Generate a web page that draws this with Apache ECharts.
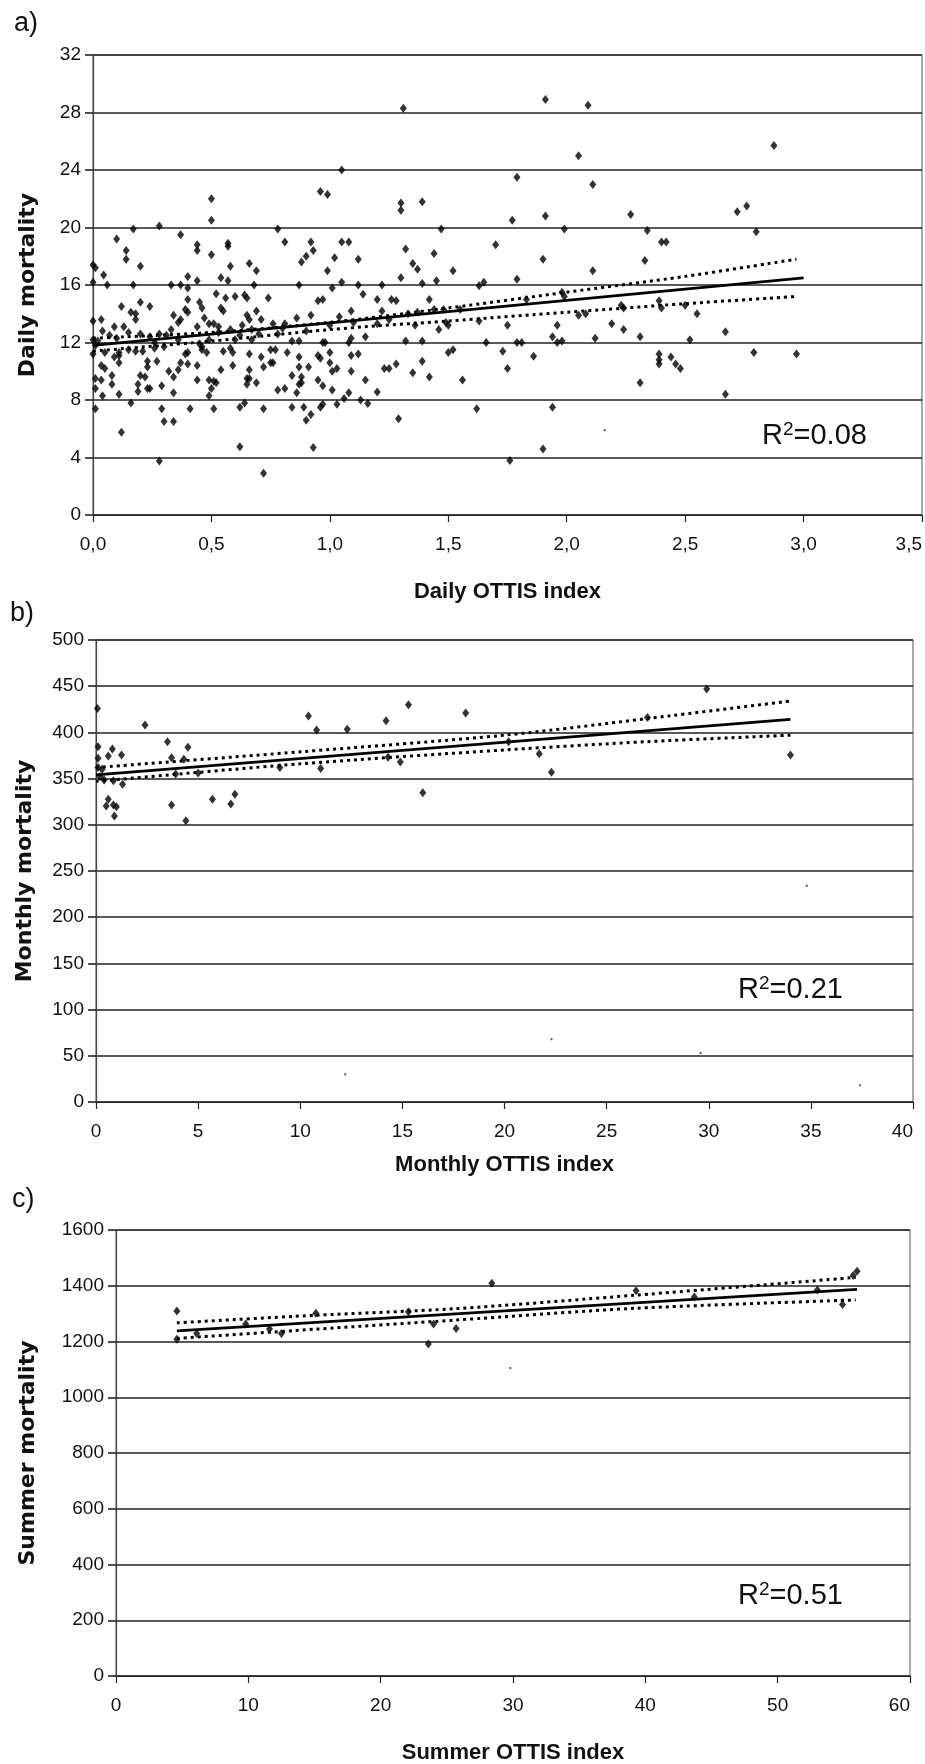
<!DOCTYPE html>
<html>
<head>
<meta charset="utf-8">
<script src="https://cdn.jsdelivr.net/npm/echarts@6/dist/echarts.min.js"></script>
<style>
  html, body { margin: 0; padding: 0; background: #fff; }
  #chart { width: 925px; height: 1764px; }
</style>
</head>
<body>
<div id="chart"></div>
<script>
// a) daily OTTIS index vs daily mortality
const dailyData = [
  [0.50,22.0],[0.50,20.5],[0.28,20.1],[0.17,19.9],[0.10,19.2],[0.37,19.5],[0.44,18.8],[0.44,18.4],[0.57,18.9],[0.57,18.7],
  [0.14,18.4],[0.14,17.8],[0.50,18.1],[0.00,17.4],[0.01,17.2],[0.20,17.3],[0.045,16.7],[0.58,17.3],[0.66,17.5],[0.69,17.0],
  [0.40,16.6],[0.54,16.5],[0.57,16.3],[0.44,16.3],[0.00,16.2],[0.06,16.0],[0.17,16.0],[0.33,16.0],[0.37,16.0],[0.40,15.8],
  [0.68,16.0],[0.52,15.4],[0.56,15.1],[0.60,15.2],[0.64,15.3],[0.65,15.1],[0.74,15.1],[0.40,15.0],[0.45,14.8],[0.46,14.4],
  [0.20,14.8],[0.24,14.5],[0.12,14.5],[0.16,14.1],[0.18,14.0],[0.18,13.6],[0.34,13.9],[0.39,14.3],[0.40,14.1],[0.54,14.4],
  [0.55,14.2],[0.00,13.5],[0.035,13.6],[0.36,13.4],[0.37,13.6],[0.47,13.7],[0.49,13.3],[0.51,13.3],[0.53,13.1],[0.65,13.9],
  [0.66,13.6],[0.69,14.2],[0.71,13.6],[0.04,12.8],[0.09,13.1],[0.13,13.1],[0.20,12.6],[0.28,12.6],[0.33,12.9],[0.44,13.1],
  [0.63,13.2],[0.67,12.9],[0.00,12.2],[0.01,11.8],[0.36,12.2],[0.45,11.9],[0.49,12.2],[0.60,12.2],[0.67,12.2],
  [0.02,12.1],[0.07,12.5],[0.10,12.3],[0.15,12.7],[0.24,12.4],[0.31,12.5],[0.26,12.0],[0.53,12.7],[0.58,12.9],[0.70,12.6],[0.62,12.5],
  [0.00,11.2],[0.05,11.3],[0.11,11.3],[0.15,11.5],[0.18,11.4],[0.21,11.4],[0.26,11.6],[0.30,11.7],[0.39,11.2],[0.40,11.3],
  [0.46,11.5],[0.48,11.3],[0.46,11.7],[0.55,11.4],[0.58,11.6],[0.59,11.3],[0.66,11.2],[0.71,11.0],
  [0.035,10.4],[0.05,10.2],[0.11,10.6],[0.11,11.1],[0.09,11.0],[0.23,10.7],[0.23,10.3],[0.27,10.7],[0.32,10.0],[0.34,9.6],
  [0.36,10.1],[0.37,10.6],[0.40,10.5],[0.44,10.4],[0.54,10.1],[0.59,10.4],[0.66,10.1],[0.66,9.5],[0.72,10.3],
  [0.01,9.5],[0.035,9.4],[0.08,9.7],[0.08,9.1],[0.20,9.7],[0.22,9.6],[0.01,8.8],[0.04,8.3],[0.11,8.4],[0.19,9.1],
  [0.19,8.6],[0.23,8.8],[0.24,8.8],[0.29,9.0],[0.34,8.5],[0.44,9.4],[0.49,9.4],[0.51,9.3],[0.52,9.2],[0.50,8.8],
  [0.49,8.3],[0.65,9.1],[0.69,9.2],[0.65,9.5],[0.01,7.4],[0.16,7.8],[0.29,7.4],[0.41,7.4],[0.51,7.4],[0.62,7.5],
  [0.64,7.8],[0.72,7.4],[0.30,6.5],[0.34,6.5],[0.12,5.75],[0.62,4.75],[0.28,3.75],[0.72,2.9],
  [0.96,22.5],[0.99,22.3],[1.30,21.7],[1.30,21.2],[1.39,21.8],[0.78,19.9],[1.47,19.9],[0.81,19.0],[0.92,19.0],[0.93,18.4],
  [0.90,18.0],[0.88,17.6],[1.05,19.0],[1.08,19.0],[1.02,17.9],[0.99,17.0],[1.12,17.8],[1.32,18.5],[1.44,18.2],[1.35,17.5],
  [1.37,17.1],[1.30,16.5],[0.87,16.0],[1.01,15.8],[1.05,16.2],[1.12,16.0],[1.22,16.0],[1.39,16.1],[1.45,16.3],
  [0.95,14.9],[0.97,15.0],[1.14,15.35],[1.20,15.0],[1.26,15.0],[1.28,14.9],[1.42,15.0],[1.09,14.2],[1.22,14.2],[0.86,13.7],
  [0.92,13.9],[0.76,13.3],[0.81,13.3],[1.04,13.8],[1.33,14.0],[1.37,14.1],[1.44,14.3],[1.46,12.9],[1.36,13.2],[1.15,12.4],
  [1.09,12.3],[0.84,12.1],[0.87,12.1],[0.97,12.0],[0.98,12.0],[1.08,12.0],[1.32,12.1],[1.39,12.1],
  [0.80,13.0],[0.90,12.8],[1.00,13.2],[1.10,13.4],[1.20,13.3],[1.25,13.6],[0.78,12.6],
  [0.75,11.5],[0.77,11.5],[0.82,11.3],[0.87,11.0],[0.95,11.1],[0.96,10.9],[1.00,11.3],[1.09,11.1],[1.12,11.2],[0.75,10.6],
  [0.76,10.6],[0.87,10.3],[0.91,10.3],[1.00,10.6],[1.03,10.2],[1.01,10.0],[1.09,10.0],[1.23,10.2],[1.25,10.2],[1.28,10.5],
  [1.35,9.9],[1.39,10.7],[1.42,9.6],[0.84,9.7],[0.88,9.6],[0.88,9.2],[0.87,9.1],[0.95,9.4],[0.97,9.0],[0.78,8.7],
  [0.81,8.8],[0.86,8.5],[1.01,8.7],[1.08,8.5],[1.15,9.4],[1.20,8.55],[1.06,8.1],[1.13,8.0],[1.16,7.75],[0.84,7.5],
  [0.89,7.5],[0.96,7.5],[0.97,7.7],[1.03,7.7],[0.92,7.0],[0.90,6.6],[1.29,6.7],[0.93,4.7],[1.31,28.3],[1.05,24.0],
  [1.91,28.9],[2.09,28.5],[2.05,25.0],[1.79,23.5],[2.11,23.0],[1.77,20.5],[1.91,20.8],[2.27,20.9],[1.99,19.9],[2.34,19.8],
  [2.40,19.0],[2.42,19.0],[1.70,18.8],[1.90,17.8],[2.33,17.7],[1.52,17.0],[2.11,17.0],[1.79,16.4],[1.63,15.95],[1.65,16.2],
  [1.98,15.5],[1.99,15.2],[1.83,15.0],[1.48,14.3],[1.55,14.3],[1.49,13.4],[1.50,13.2],[1.63,13.5],[1.75,13.2],[2.05,13.9],
  [2.08,14.0],[2.23,14.6],[2.24,14.4],[2.39,14.9],[2.40,14.4],[2.19,13.3],[2.24,12.9],[1.96,13.2],[1.94,12.4],[1.96,12.0],
  [1.98,12.1],[1.66,12.0],[1.79,12.0],[1.81,12.0],[2.12,12.3],[2.31,12.4],[1.50,11.3],[1.52,11.5],[1.73,11.4],[1.86,11.05],
  [1.75,10.2],[2.39,11.2],[2.39,10.8],[2.39,10.5],[2.46,10.5],[1.56,9.4],[2.31,9.2],[1.62,7.4],[1.94,7.5],[1.90,4.6],[1.76,3.8],
  [2.875,25.7],[2.72,21.1],[2.76,21.5],[2.80,19.7],[2.50,14.6],[2.55,14.0],[2.67,12.75],[2.52,12.2],[2.44,11.0],[2.79,11.3],
  [2.97,11.2],[2.48,10.2],[2.67,8.4]
];
const dailyFit = [[0, 11.8], [3.0, 16.5]];
const dailyUpper = [[0, 12.3], [0.5, 12.7], [1.0, 13.4], [1.5, 14.4], [2.0, 15.5], [2.5, 16.6], [2.97, 17.8]];
const dailyLower = [[0, 11.4], [0.5, 12.1], [1.0, 12.9], [1.5, 13.5], [2.0, 14.1], [2.5, 14.7], [2.97, 15.2]];
const dailySpecks = [[2.16, 5.9]];

// b) monthly
const monthlyData = [
  [0.07,426],[2.4,408],[0.1,384.6],[0.1,372],[0.1,362],[0.3,360],[0.6,374.5],[0.8,382],[1.25,375.5],[0.2,352],
  [0.4,348.5],[0.85,347.8],[1.3,344],[0.6,327.6],[0.5,320.3],[0.85,321.4],[1.0,319.6],[0.9,309.5],[3.5,390],[3.7,372.6],
  [3.7,321.4],[4.3,371],[4.5,383.8],[4.4,304.4],[5.7,327.6],[6.6,322.5],[6.8,333],[9.0,362],[10.4,417.7],[10.8,402.6],
  [11.0,361],[12.3,403.4],[14.2,412.7],[14.3,373],[14.9,368],[15.3,430],[16.0,334.7],[18.1,421],[20.2,390],[21.7,377],
  [22.3,356.8],[27.0,416],[29.9,447],[34.0,375.5],[3.9,355],[5.0,356]
];
const monthlyFit = [[0, 354], [34, 414]];
const monthlyUpper = [[0, 362], [10, 379], [20, 397], [27, 415], [34, 434]];
const monthlyLower = [[0, 347], [10, 366], [20, 381], [27, 390], [34, 397]];
const monthlySpecks = [[34.8, 234], [22.3, 68], [12.2, 30], [37.4, 18], [29.6, 53]];

// c) summer
const summerData = [
  [4.6,1309],[4.6,1208],[6.1,1229],[9.8,1263],[11.6,1245],[12.5,1229],[15.1,1301],[22.1,1307],[24.0,1263],[23.6,1191],
  [25.7,1247],[28.4,1409],[39.3,1382],[43.7,1360],[53.0,1385],[54.9,1333],[55.7,1437],[56.0,1452]
];
const summerFit = [[4.6, 1238], [56, 1387]];
const summerUpper = [[4.6, 1267], [15, 1294], [25.7, 1318], [39.2, 1366], [55.9, 1430]];
const summerLower = [[4.6, 1211], [15, 1244], [25.7, 1277], [39.2, 1319], [55.9, 1349]];
const summerSpecks = [[29.8, 1105]];

const panelLetters = ['a)', 'b)', 'c)'];
const r2Labels = ['0.08', '0.21', '0.51'];

const narrow = "'Liberation Sans Narrow', 'Liberation Sans', Arial, sans-serif";
const wide = "'DejaVu Sans', Verdana, sans-serif";
const gridClr = '#222';

const chart = echarts.init(document.getElementById('chart'));

function xAxisOf (i, min, max, step, name, gap, fmt) {
  return {
    gridIndex: i, type: 'value', min: min, max: max, interval: step,
    name: name, nameLocation: 'middle', nameGap: gap,
    nameTextStyle: { fontFamily: narrow, fontWeight: 'bold', fontSize: 22, color: '#111' },
    axisLine: { lineStyle: { color: '#222', width: 1.2 } },
    axisTick: { show: true, length: 7, lineStyle: { color: '#222', width: 1.2 } },
    axisLabel: { fontFamily: narrow, fontSize: 19, color: '#111', margin: 20, formatter: fmt || (v => String(v)), alignMaxLabel: 'right' },
    splitLine: { show: false }
  }
}
function yAxisOf (i, min, max, step, name, gap) {
  return {
    gridIndex: i, type: 'value', min: min, max: max, interval: step,
    name: name, nameLocation: 'middle', nameGap: gap, nameRotate: 90,
    nameTextStyle: { fontFamily: wide, fontWeight: 'bold', fontSize: 22, color: '#111' },
    axisLine: { show: true, lineStyle: { color: '#444', width: 1.2 } },
    axisTick: { show: true, length: 8, lineStyle: { color: gridClr, width: 1.6 } },
    axisLabel: { fontFamily: narrow, fontSize: 19, color: '#111', margin: 12, formatter: v => String(v) },
    splitLine: { show: true, lineStyle: { color: gridClr, width: 1.7 } }
  }
}
function pointsOf (i, data) {
  return {
    type: 'scatter', xAxisIndex: i, yAxisIndex: i, data: data,
    symbol: 'diamond', symbolSize: [7, 9],
    itemStyle: { color: '#000' }, z: 5
  }
}
function specksOf (i, data) {
  return {
    type: 'scatter', xAxisIndex: i, yAxisIndex: i, data: data,
    symbol: 'rect', symbolSize: 2, itemStyle: { color: '#333' }
  }
}
function fitOf (i, data) {
  return {
    type: 'line', xAxisIndex: i, yAxisIndex: i, data: data, showSymbol: false,
    lineStyle: { color: '#000', width: 2.8 }, z: 6
  }
}
function bandOf (i, data) {
  return {
    type: 'line', xAxisIndex: i, yAxisIndex: i, data: data, showSymbol: false, smooth: 0.3,
    lineStyle: { color: '#000', width: 3, type: [3, 4] }, z: 6
  }
}
function letterOf (txt, x, y) {
  return { type: 'text', left: x, top: y, style: { text: txt, font: '27px ' + narrow, fill: '#111' } }
}
function r2Of (val, x, y) {
  return {
    type: 'text', left: x, top: y,
    style: {
      text: '{r|R}{s|2}{r|=' + val + '}',
      rich: {
        r: { fontFamily: "'Liberation Sans', Arial, sans-serif", fontSize: 29, fill: '#111', lineHeight: 32 },
        s: { fontFamily: "'Liberation Sans', Arial, sans-serif", fontSize: 19, fill: '#111', verticalAlign: 'top', lineHeight: 32 }
      }
    }
  }
}

const option = {
  backgroundColor: '#fff',
  animation: false,
  grid: [
    { left: 93, top: 55, right: 3, height: 460, show: true, borderColor: '#555', borderWidth: 1, outerBoundsMode: 'none' },
    { left: 96, top: 640, right: 12, height: 462, show: true, borderColor: '#555', borderWidth: 1, outerBoundsMode: 'none' },
    { left: 116, top: 1230, right: 15, height: 446, show: true, borderColor: '#555', borderWidth: 1, outerBoundsMode: 'none' }
  ],
  xAxis: [
    xAxisOf(0, 0, 3.5, 0.5, 'Daily OTTIS index', 66, v => v.toFixed(1).replace('.', ',')),
    xAxisOf(1, 0, 40, 5, 'Monthly OTTIS index', 52),
    xAxisOf(2, 0, 60, 10, 'Summer OTTIS index', 66)
  ],
  yAxis: [
    yAxisOf(0, 0, 32, 4, 'Daily mortality', 54),
    yAxisOf(1, 0, 500, 50, 'Monthly mortality', 60),
    yAxisOf(2, 0, 1600, 200, 'Summer mortality', 77)
  ],
  series: [
    pointsOf(0, dailyData), specksOf(0, dailySpecks), fitOf(0, dailyFit), bandOf(0, dailyUpper), bandOf(0, dailyLower),
    pointsOf(1, monthlyData), specksOf(1, monthlySpecks), fitOf(1, monthlyFit), bandOf(1, monthlyUpper), bandOf(1, monthlyLower),
    pointsOf(2, summerData), specksOf(2, summerSpecks), fitOf(2, summerFit), bandOf(2, summerUpper), bandOf(2, summerLower)
  ],
  graphic: [
    letterOf(panelLetters[0], 14, 10),
    letterOf(panelLetters[1], 10, 600),
    letterOf(panelLetters[2], 12, 1186),
    r2Of(r2Labels[0], 762, 420),
    r2Of(r2Labels[1], 738, 974),
    r2Of(r2Labels[2], 738, 1580)
  ]
};
chart.setOption(option);
</script>
</body>
</html>
